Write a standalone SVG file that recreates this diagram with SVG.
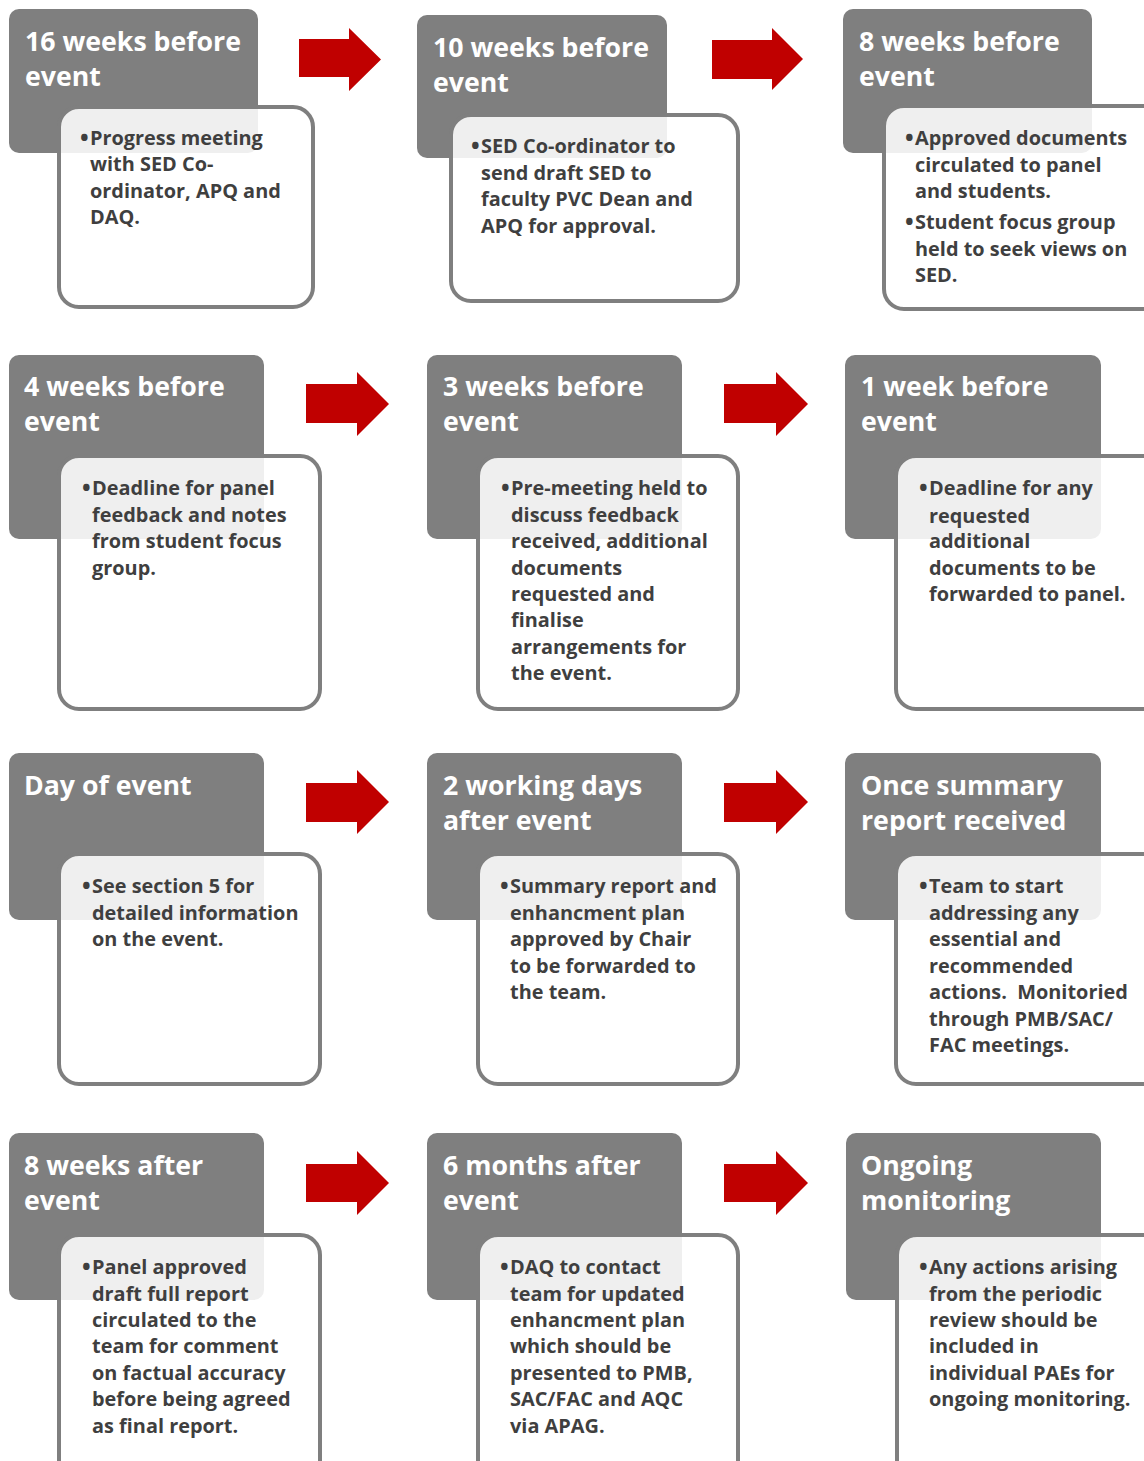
<svg xmlns="http://www.w3.org/2000/svg" width="1144" height="1461" viewBox="0 0 1144 1461">
<style>
  .hdr { fill: #7f7f7f; }
  .box { fill: #ffffff; fill-opacity: 0.88; stroke: #7f7f7f; stroke-width: 4; }
  .ht { font-family: "Open Sans", Lato, sans-serif; font-weight: bold; font-size: 26.7px; fill: #ffffff; }
  .bt { font-family: "Open Sans", Lato, sans-serif; font-weight: bold; font-size: 19.9px; fill: #3f3f3f; }
  .bu { font-size: 23px; }
  .arr { fill: #c00000; }
</style>
<rect width="1144" height="1461" fill="#ffffff"/>

<g id="connectors">
  <polygon class="arr" points="299,39 349,39 349,28 381,59.5 349,91 349,77 299,77"/>
  <polygon class="arr" points="712,40 772,40 772,28 803,59 772,90 772,79 712,79"/>
  <polygon class="arr" points="306,384 357,384 357,372 389,404 357,436 357,423 306,423"/>
  <polygon class="arr" points="724,384 776,384 776,372 808,404 776,436 776,423 724,423"/>
  <polygon class="arr" points="306,783 357,783 357,770 389,802 357,834 357,822 306,822"/>
  <polygon class="arr" points="724,783 776,783 776,770 808,802 776,834 776,822 724,822"/>
  <polygon class="arr" points="306,1164 357,1164 357,1151 389,1183 357,1215 357,1202 306,1202"/>
  <polygon class="arr" points="724,1164 776,1164 776,1151 808,1183 776,1215 776,1202 724,1202"/>
</g>

<g id="node1">
  <rect class="hdr" x="9" y="9" width="249" height="144" rx="10"/>
  <text class="ht"><tspan x="25" y="51">16 weeks before</tspan><tspan x="25" y="86">event</tspan></text>
  <rect class="box" x="59" y="107" width="254" height="200" rx="20"/>
  <text class="bt"><tspan class="bu" x="80" y="146">•</tspan><tspan x="90" y="145">Progress meeting</tspan><tspan x="90" y="171">with SED Co-</tspan><tspan x="90" y="198">ordinator, APQ and</tspan><tspan x="90" y="224">DAQ.</tspan></text>
</g>

<g id="node2">
  <rect class="hdr" x="417" y="15" width="250" height="143" rx="10"/>
  <text class="ht"><tspan x="433" y="57">10 weeks before</tspan><tspan x="433" y="92">event</tspan></text>
  <rect class="box" x="451" y="115" width="287" height="186" rx="20"/>
  <text class="bt"><tspan class="bu" x="471" y="154">•</tspan><tspan x="481" y="153">SED Co-ordinator to</tspan><tspan x="481" y="180">send draft SED to</tspan><tspan x="481" y="206">faculty PVC Dean and</tspan><tspan x="481" y="233">APQ for approval.</tspan></text>
</g>

<g id="node3">
  <rect class="hdr" x="843" y="9" width="249" height="144" rx="10"/>
  <text class="ht"><tspan x="859" y="51">8 weeks before</tspan><tspan x="859" y="86">event</tspan></text>
  <rect class="box" x="884" y="106" width="290" height="203" rx="20"/>
  <text class="bt"><tspan class="bu" x="905" y="146">•</tspan><tspan x="915" y="145">Approved documents</tspan><tspan x="915" y="172">circulated to panel</tspan><tspan x="915" y="198">and students.</tspan><tspan class="bu" x="905" y="230">•</tspan><tspan x="915" y="229">Student focus group</tspan><tspan x="915" y="256">held to seek views on</tspan><tspan x="915" y="282">SED.</tspan></text>
</g>

<g id="node4">
  <rect class="hdr" x="9" y="355" width="255" height="184" rx="10"/>
  <text class="ht"><tspan x="24" y="396">4 weeks before</tspan><tspan x="24" y="431">event</tspan></text>
  <rect class="box" x="59" y="456" width="261" height="253" rx="20"/>
  <text class="bt"><tspan class="bu" x="82" y="496">•</tspan><tspan x="92" y="495">Deadline for panel</tspan><tspan x="92" y="522">feedback and notes</tspan><tspan x="92" y="548">from student focus</tspan><tspan x="92" y="575">group.</tspan></text>
</g>

<g id="node5">
  <rect class="hdr" x="427" y="355" width="255" height="184" rx="10"/>
  <text class="ht"><tspan x="443" y="396">3 weeks before</tspan><tspan x="443" y="431">event</tspan></text>
  <rect class="box" x="478" y="456" width="260" height="253" rx="20"/>
  <text class="bt"><tspan class="bu" x="501" y="496">•</tspan><tspan x="511" y="495">Pre-meeting held to</tspan><tspan x="511" y="522">discuss feedback</tspan><tspan x="511" y="548">received, additional</tspan><tspan x="511" y="575">documents</tspan><tspan x="511" y="601">requested and</tspan><tspan x="511" y="627">finalise</tspan><tspan x="511" y="654">arrangements for</tspan><tspan x="511" y="680">the event.</tspan></text>
</g>

<g id="node6">
  <rect class="hdr" x="845" y="355" width="256" height="184" rx="10"/>
  <text class="ht"><tspan x="861" y="396">1 week before</tspan><tspan x="861" y="431">event</tspan></text>
  <rect class="box" x="896" y="456" width="280" height="253" rx="20"/>
  <text class="bt"><tspan class="bu" x="919" y="496">•</tspan><tspan x="929" y="495">Deadline for any</tspan><tspan x="929" y="523">requested</tspan><tspan x="929" y="548">additional</tspan><tspan x="929" y="575">documents to be</tspan><tspan x="929" y="601">forwarded to panel.</tspan></text>
</g>

<g id="node7">
  <rect class="hdr" x="9" y="753" width="255" height="167" rx="10"/>
  <text class="ht"><tspan x="24" y="795">Day of event</tspan></text>
  <rect class="box" x="59" y="854" width="261" height="230" rx="20"/>
  <text class="bt"><tspan class="bu" x="82" y="894">•</tspan><tspan x="92" y="893">See section 5 for</tspan><tspan x="92" y="920">detailed information</tspan><tspan x="92" y="946">on the event.</tspan></text>
</g>

<g id="node8">
  <rect class="hdr" x="427" y="753" width="255" height="167" rx="10"/>
  <text class="ht"><tspan x="443" y="795">2 working days</tspan><tspan x="443" y="830">after event</tspan></text>
  <rect class="box" x="478" y="854" width="260" height="230" rx="20"/>
  <text class="bt"><tspan class="bu" x="500" y="894">•</tspan><tspan x="510" y="893">Summary report and</tspan><tspan x="510" y="920">enhancment plan</tspan><tspan x="510" y="946">approved by Chair</tspan><tspan x="510" y="973">to be forwarded to</tspan><tspan x="510" y="999">the team.</tspan></text>
</g>

<g id="node9">
  <rect class="hdr" x="845" y="753" width="256" height="167" rx="10"/>
  <text class="ht"><tspan x="861" y="795">Once summary</tspan><tspan x="861" y="830">report received</tspan></text>
  <rect class="box" x="896" y="854" width="280" height="230" rx="20"/>
  <text class="bt"><tspan class="bu" x="919" y="894">•</tspan><tspan x="929" y="893">Team to start</tspan><tspan x="929" y="920">addressing any</tspan><tspan x="929" y="946">essential and</tspan><tspan x="929" y="973">recommended</tspan><tspan x="929" y="999" xml:space="preserve">actions.  Monitoried</tspan><tspan x="929" y="1026">through PMB/SAC/</tspan><tspan x="929" y="1052">FAC meetings.</tspan></text>
</g>

<g id="node10">
  <rect class="hdr" x="9" y="1133" width="255" height="167" rx="10"/>
  <text class="ht"><tspan x="24" y="1175">8 weeks after</tspan><tspan x="24" y="1210">event</tspan></text>
  <rect class="box" x="59" y="1235" width="261" height="260" rx="20"/>
  <text class="bt"><tspan class="bu" x="82" y="1275">•</tspan><tspan x="92" y="1274">Panel approved</tspan><tspan x="92" y="1301">draft full report</tspan><tspan x="92" y="1327">circulated to the</tspan><tspan x="92" y="1353">team for comment</tspan><tspan x="92" y="1380">on factual accuracy</tspan><tspan x="92" y="1406">before being agreed</tspan><tspan x="92" y="1433">as final report.</tspan></text>
</g>

<g id="node11">
  <rect class="hdr" x="427" y="1133" width="255" height="167" rx="10"/>
  <text class="ht"><tspan x="443" y="1175">6 months after</tspan><tspan x="443" y="1210">event</tspan></text>
  <rect class="box" x="478" y="1235" width="260" height="260" rx="20"/>
  <text class="bt"><tspan class="bu" x="500" y="1275">•</tspan><tspan x="510" y="1274">DAQ to contact</tspan><tspan x="510" y="1301">team for updated</tspan><tspan x="510" y="1327">enhancment plan</tspan><tspan x="510" y="1353">which should be</tspan><tspan x="510" y="1380">presented to PMB,</tspan><tspan x="510" y="1406">SAC/FAC and AQC</tspan><tspan x="510" y="1433">via APAG.</tspan></text>
</g>

<g id="node12">
  <rect class="hdr" x="846" y="1133" width="255" height="167" rx="10"/>
  <text class="ht"><tspan x="861" y="1175">Ongoing</tspan><tspan x="861" y="1210">monitoring</tspan></text>
  <rect class="box" x="897" y="1235" width="280" height="260" rx="20"/>
  <text class="bt"><tspan class="bu" x="919" y="1275">•</tspan><tspan x="929" y="1274">Any actions arising</tspan><tspan x="929" y="1301">from the periodic</tspan><tspan x="929" y="1327">review should be</tspan><tspan x="929" y="1353">included in</tspan><tspan x="929" y="1380">individual PAEs for</tspan><tspan x="929" y="1406">ongoing monitoring.</tspan></text>
</g>
</svg>
